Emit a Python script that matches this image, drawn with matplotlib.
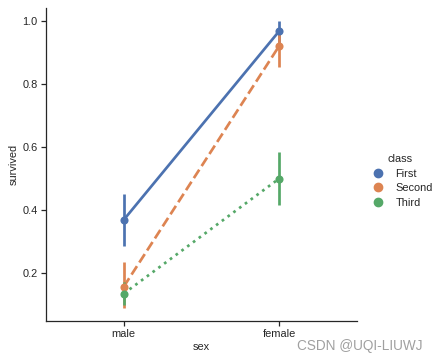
import matplotlib
matplotlib.use("Agg")
import matplotlib.pyplot as plt
import seaborn as sns
from matplotlib.lines import Line2D

sns.set_theme(style="ticks")
plt.rcParams['font.family'] = ['Liberation Sans', 'DejaVu Sans']

# survival estimates
sexes = ["male", "female"]
classes = ["First", "Second", "Third"]
survived = {
    "First": [0.369, 0.968],
    "Second": [0.157, 0.921],
    "Third": [0.135, 0.500],
}
ci_low = {
    "First": [0.285, 0.930],
    "Second": [0.090, 0.855],
    "Third": [0.100, 0.415],
}
ci_high = {
    "First": [0.452, 1.000],
    "Second": [0.235, 0.975],
    "Third": [0.172, 0.585],
}
colors = ["#4C72B0", "#DD8452", "#55A868"]
linestyles = ["-", "--", ":"]

fs = 7.9
lw = 1.95

fig = plt.figure(figsize=(4.38, 3.62), dpi=100)
ax = fig.add_axes([46 / 438, 41 / 362, 311 / 438, 313 / 362])

x = list(range(len(sexes)))
for cls, c, ls in zip(classes, colors, linestyles):
    ax.plot(x, survived[cls], color=c, lw=lw, ls=ls, zorder=2)
    for xi in x:
        ax.plot([xi, xi], [ci_low[cls][xi], ci_high[cls][xi]], color=c, lw=lw,
                solid_capstyle="butt", zorder=2)
    ax.scatter(x, survived[cls], s=34, color=c, zorder=3, linewidths=0)

ax.set_xlim(-0.5, 1.5)
ax.set_ylim(0.048, 1.041)
ax.set_xticks(x)
ax.set_xticklabels(sexes)
ax.set_yticks([0.2, 0.4, 0.6, 0.8, 1.0])
ax.tick_params(labelsize=fs, width=0.9, length=3.5, pad=2.5)
ax.set_xlabel("sex", fontsize=fs, labelpad=2)
ax.set_ylabel("survived", fontsize=fs, labelpad=3)
for s in ["left", "bottom"]:
    ax.spines[s].set_linewidth(0.9)
sns.despine(ax=ax)

handles = [Line2D([], [], marker="o", ls="", color=c, markersize=6) for c in colors]
leg = fig.legend(handles, classes, title="class", loc="center left",
                 bbox_to_anchor=(357 / 438, 0.5), frameon=False,
                 fontsize=fs, title_fontsize=fs, handletextpad=0.6,
                 labelspacing=0.4)

fig.text(0.965, 0.045, "CSDN @UQI-LIUWJ", ha="right", va="center",
         fontsize=9.8, color="#a0a0a0")

fig.savefig("out.png", dpi=100)
